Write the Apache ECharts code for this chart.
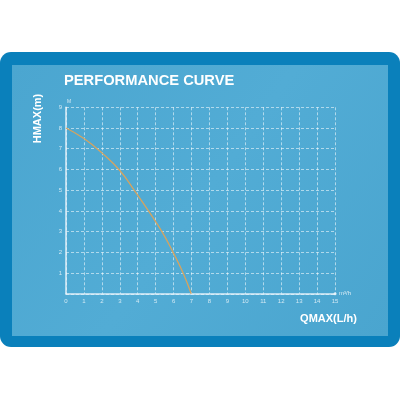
<!DOCTYPE html>
<html>
<head>
<meta charset="utf-8">
<script src="https://cdn.jsdelivr.net/npm/echarts@6/dist/echarts.min.js"></script>
<style>
  html, body { margin: 0; padding: 0; background: #fff; }
  #main { width: 400px; height: 400px; }
</style>
</head>
<body>
<div id="main"></div>
<script>
// flow (m3/h) and head (m)
var flow = [0, 1, 2, 3, 3.8, 4.6, 5.35, 5.97, 6.53, 6.98]
var head = [8, 7.49, 6.8, 5.95, 5, 4, 3, 2, 1, 0]
var xTicks = ['0', '1', '2', '3', '4', '5', '6', '7', '8', '9', '10', '11', '12', '13', '14', '15']
var yTicks = ['0', '1', '2', '3', '4', '5', '6', '7', '8', '9']

var chart = echarts.init(document.getElementById('main'))

var points = flow.map(function (q, i) {
  return [q, head[i]]
})

var tickStyle = {
  color: 'rgba(255,255,255,0.75)',
  fontSize: 6,
  fontFamily: 'Liberation Sans'
}

var option = {
  backgroundColor: '#fff',
  animation: false,
  graphic: [
    // outer frame
    {
      type: 'rect',
      z: -10,
      shape: { x: 0, y: 52, width: 400, height: 295, r: 11 },
      style: { fill: '#0a80bb' }
    },
    // inner panel
    {
      type: 'rect',
      z: -9,
      shape: { x: 12, y: 65, width: 376, height: 271 },
      style: {
        fill: new echarts.graphic.LinearGradient(0, 0, 1, 1, [
          { offset: 0, color: '#4ba6d0' },
          { offset: 0.5, color: '#52acd5' },
          { offset: 1, color: '#4aa5cf' }
        ])
      }
    },
    {
      type: 'text',
      left: 64,
      top: 73,
      style: {
        text: 'PERFORMANCE CURVE',
        fill: '#fff',
        font: 'bold 14.7px "Liberation Sans"'
      }
    },
    {
      type: 'text',
      x: 37.5,
      y: 118.5,
      rotation: Math.PI / 2,
      style: {
        text: 'HMAX(m)',
        fill: '#fff',
        font: 'bold 11px "Liberation Sans"',
        align: 'center',
        verticalAlign: 'middle'
      }
    },
    {
      type: 'text',
      x: 328.5,
      y: 319,
      style: {
        text: 'QMAX(L/h)',
        fill: '#fff',
        font: 'bold 11px "Liberation Sans"',
        align: 'center',
        verticalAlign: 'middle'
      }
    }
  ],
  grid: {
    left: 66,
    top: 107.3,
    width: 269,
    height: 186.5
  },
  xAxis: {
    type: 'value',
    min: 0,
    max: 15,
    interval: 1,
    name: 'm³/h',
    nameGap: 4,
    nameTextStyle: { color: 'rgba(255,255,255,0.8)', fontSize: 6, fontFamily: 'Liberation Sans' },
    axisLine: {
      show: true,
      symbol: ['none', 'circle'],
      symbolSize: [3, 3],
      lineStyle: { color: 'rgba(235,245,252,0.9)', width: 1.5 }
    },
    axisTick: { show: false },
    axisLabel: Object.assign({
      margin: 5,
      formatter: function (v) { return xTicks[v] }
    }, tickStyle),
    splitLine: {
      show: true,
      lineStyle: { color: 'rgba(255,255,255,0.55)', type: [3, 2], width: 1 }
    }
  },
  yAxis: {
    type: 'value',
    min: 0,
    max: 9,
    interval: 1,
    name: 'M',
    nameGap: 1,
    nameTextStyle: { color: 'rgba(255,255,255,0.75)', fontSize: 5, align: 'left', padding: [0, 0, 0, 1] },
    axisLine: {
      show: true,
      lineStyle: { color: 'rgba(235,245,252,0.9)', width: 1.5 }
    },
    axisTick: { show: false },
    axisLabel: Object.assign({
      margin: 4,
      showMinLabel: false,
      formatter: function (v) { return yTicks[v] }
    }, tickStyle),
    splitLine: {
      show: true,
      lineStyle: { color: 'rgba(255,255,255,0.55)', type: [3, 2], width: 1 }
    }
  },
  series: [
    {
      type: 'line',
      data: points,
      smooth: 0.5,
      showSymbol: false,
      lineStyle: { color: '#d6a35e', width: 1.3 }
    }
  ]
}
chart.setOption(option)
</script>
</body>
</html>
